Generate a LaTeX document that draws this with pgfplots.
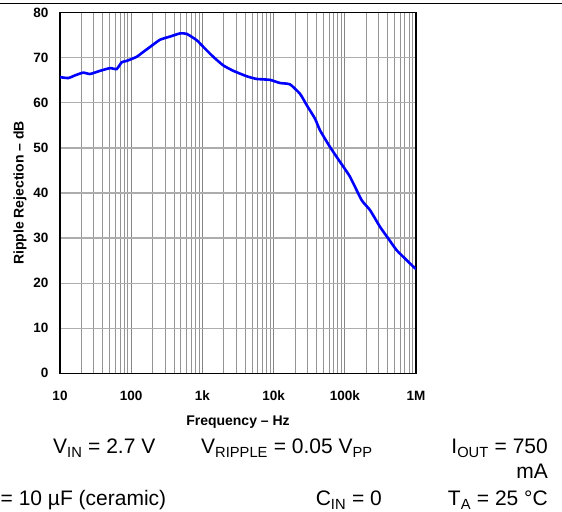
\documentclass[border=0pt]{standalone}
\usepackage{pgfplots}
\pgfplotsset{compat=1.18}
\usepackage{fontspec}
\setmainfont{Liberation Sans}
\begin{document}
\begin{tikzpicture}[x=1bp,y=1bp]
\useasboundingbox (0,0) rectangle (562,512);
\draw[line width=1.2bp] (0,508.7) -- (562,508.7);
\begin{axis}[
  at={(60bp,138.7bp)}, anchor=south west, scale only axis,
  width=356bp, height=360.6bp,
  xmode=log, xmin=10, xmax=1e6, ymin=0, ymax=80,
  xtick={10,100,1000,10000,100000,1000000},
  xticklabels={10,100,1k,10k,100k,1M},
  ytick={0,10,20,30,40,50,60,70,80},
  /pgf/number format/assume math mode=true,
  ticklabel style={font=\bfseries\fontsize{13.5bp}{15bp}\selectfont},
  xticklabel style={yshift=-14bp},
  yticklabel style={xshift=-8bp},
  major tick length=0pt, minor tick length=0pt,
  xmajorgrids, xminorgrids, ymajorgrids,
  major x grid style={color=black!48, line width=1bp},
  minor x grid style={color=black!42, line width=1bp},
  major y grid style={color=black!32, line width=1.2bp},
  axis line style={black, line width=1.2bp},
  xlabel={Frequency -- Hz},
  ylabel={Ripple Rejection -- dB},
  every axis x label/.style={at={(axis description cs:0.5,-0.1342)}, anchor=center, font=\bfseries\fontsize{14bp}{16bp}\selectfont},
  every axis y label/.style={at={(axis description cs:-0.1124,0.5)}, rotate=90, anchor=center, font=\bfseries\fontsize{14bp}{16bp}\selectfont},
]
\addplot[color=blue, line width=2.6bp, smooth, tension=0.3] coordinates {
(10,65.7) (13.1,65.5) (16.3,66.1) (21.2,66.7) (26.4,66.4) (36.5,67.1)
(50.4,67.7) (62.5,67.5) (73.5,69.0) (86.4,69.3) (119,70.2) (148,71.3)
(184,72.4) (254,74.0) (350,74.7) (484,75.4) (602,75.3) (832,73.9)
(1031,72.4) (1423,70.2) (1966,68.3) (2718,67.1) (4188,65.9) (5781,65.3)
(8892,65.1) (12300,64.4) (16982,64.1) (23490,62.0) (29150,59.5) (38100,56.5)
(44870,53.9) (61970,50.2) (85680,46.9) (118300,43.6) (172600,38.4) (226000,36.2)
(312000,32.5) (408000,29.9) (535000,27.3) (739000,25.1) (968000,23.3) (1000000,23.2)
};
\end{axis}
\begin{scope}[every node/.style={font=\fontsize{21bp}{24bp}\selectfont, inner sep=0pt}]
\node[anchor=base west] at (53,58) {V\textsubscript{IN} = 2.7 V};
\node[anchor=base west] at (201,58) {V\textsubscript{RIPPLE} = 0.05 V\textsubscript{PP}};
\node[anchor=base east] at (548,58) {I\textsubscript{OUT} = 750};
\node[anchor=base east] at (548,33) {mA};
\node[anchor=base west] at (0.5,6) {= 10 µF (ceramic)};
\node[anchor=base east] at (382,6) {C\textsubscript{IN} = 0};
\node[anchor=base east] at (548,6) {T\textsubscript{A} = 25 °C};
\end{scope}
\end{tikzpicture}
\end{document}
